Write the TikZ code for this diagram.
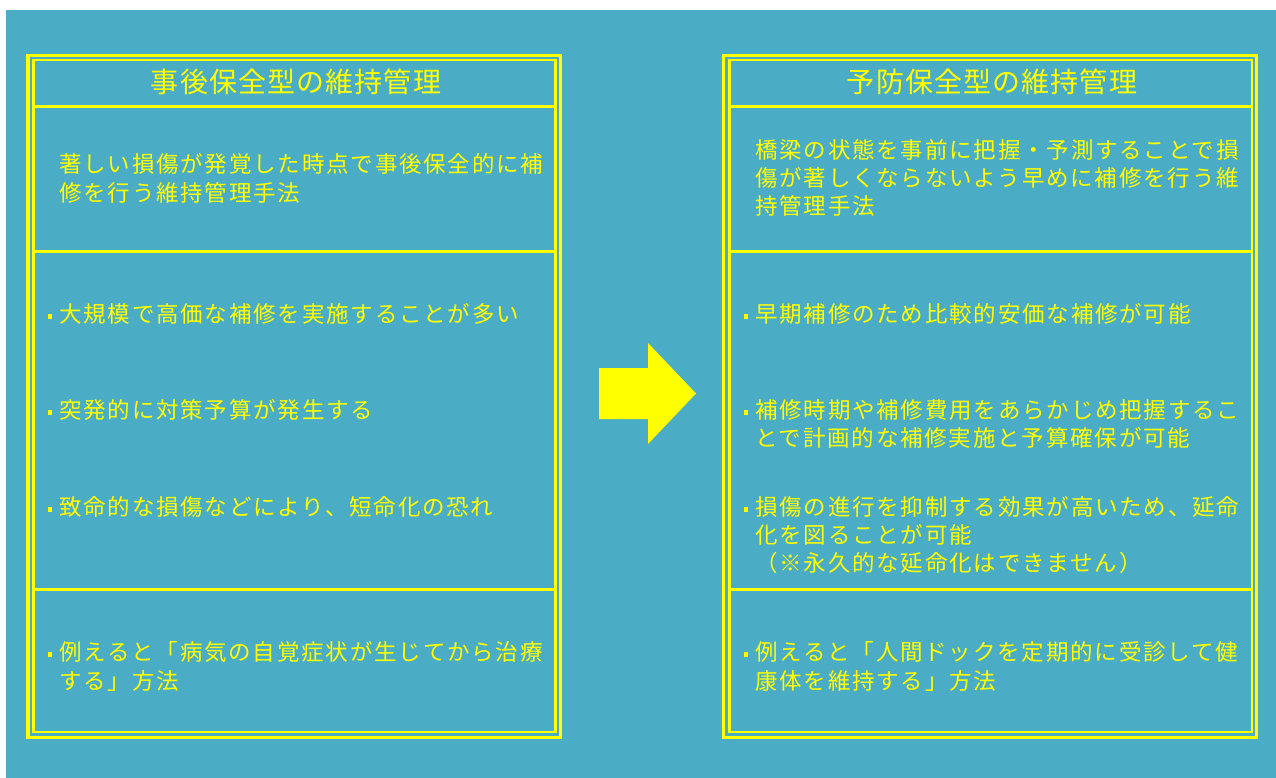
\documentclass[tikz,border=0pt]{standalone}
\usepackage{fontspec}
\newfontfamily\jpbody[LetterSpace=8]{Noto Sans CJK JP}
\newfontfamily\jptitle[LetterSpace=4]{Noto Sans CJK JP}
\definecolor{bgblue}{RGB}{75,172,198}
\definecolor{ylw}{RGB}{255,255,0}
\newcommand{\bul}{\llap{\rule[4pt]{4.5pt}{4.5pt}\hspace{7pt}}}
\begin{document}
\begin{tikzpicture}[x=1pt,y=-1pt,
  txt/.style={anchor=base west, inner sep=0, text=ylw, font=\jpbody\fontsize{22.5}{28}\selectfont},
  ttl/.style={anchor=base, inner sep=0, text=ylw, font=\jptitle\fontsize{28}{32}\selectfont},
  outerframe/.style={draw=ylw, line width=3.5pt},
  innerframe/.style={draw=ylw, line width=2.6pt},
  sepline/.style={draw=ylw, line width=3pt}]
\useasboundingbox (0,0) rectangle (1276,778);
\fill[white] (0,0) rectangle (1276,778);
\fill[bgblue] (6,10) rectangle (1276,778);

% left table
\draw[outerframe] (28,55.7) rectangle (560.3,737.3);
\draw[innerframe] (33.3,60) rectangle (555.3,732);
\draw[sepline] (33.3,106.5) -- (555.3,106.5);
\draw[sepline] (33.3,251.6) -- (555.3,251.6);
\draw[sepline] (33.3,589.5) -- (555.3,589.5);

% right table
\draw[outerframe] (723.7,55.7) rectangle (1256.7,737.3);
\draw[innerframe] (729.3,60) rectangle (1252,732);
\draw[sepline] (729.3,106.5) -- (1252,106.5);
\draw[sepline] (729.3,251.6) -- (1252,251.6);
\draw[sepline] (729.3,589.5) -- (1252,589.5);

% arrow
\fill[ylw] (599,368) -- (648,368) -- (648,343) -- (696,393.5) -- (648,444) -- (648,419) -- (599,419) -- cycle;

% left texts
\node[ttl] (lt) at (296,92.5) {事後保全型の維持管理};
\node[txt] (ld1) at (59,172.5) {著しい損傷が発覚した時点で事後保全的に補};
\node[txt] (ld2) at (59,201) {修を行う維持管理手法};
\node[txt] (la1) at (59,322.5) {\bul 大規模で高価な補修を実施することが多い};
\node[txt] (lb1) at (59,418.5) {\bul 突発的に対策予算が発生する};
\node[txt] (lc1) at (59,515.5) {\bul 致命的な損傷などにより、短命化の恐れ};
\node[txt] (le1) at (59,660.5) {\bul 例えると「病気の自覚症状が生じてから治療};
\node[txt] (le2) at (59,689.5) {する」方法};

% right texts
\node[ttl] (rt) at (992,92.5) {予防保全型の維持管理};
\node[txt] (rd1) at (755,158.5) {橋梁の状態を事前に把握・予測することで損};
\node[txt] (rd2) at (755,186.5) {傷が著しくならないよう早めに補修を行う維};
\node[txt] (rd3) at (755,214.5) {持管理手法};
\node[txt] (ra1) at (755,322.5) {\bul 早期補修のため比較的安価な補修が可能};
\node[txt] (rb1) at (755,418.5) {\bul 補修時期や補修費用をあらかじめ把握するこ};
\node[txt] (rb2) at (755,446.5) {とで計画的な補修実施と予算確保が可能};
\node[txt] (rc1) at (755,515.5) {\bul 損傷の進行を抑制する効果が高いため、延命};
\node[txt] (rc2) at (755,543.5) {化を図ることが可能};
\node[txt] (rc3) at (755,571) {（※永久的な延命化はできません）};
\node[txt] (re1) at (755,660.5) {\bul 例えると「人間ドックを定期的に受診して健};
\node[txt] (re2) at (755,689.5) {康体を維持する」方法};
\end{tikzpicture}
\end{document}
